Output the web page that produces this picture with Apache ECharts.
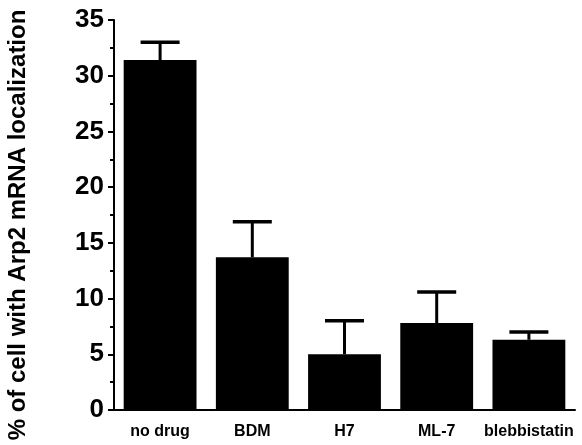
<!DOCTYPE html>
<html><head><meta charset="utf-8">
<script src="https://cdn.jsdelivr.net/npm/echarts@6/dist/echarts.min.js"></script>
<style>html,body{margin:0;padding:0;background:#fff}#c{width:582px;height:445px}</style>
</head><body><div id="c"></div>
<script>
var categories = ['no drug', 'BDM', 'H7', 'ML-7', 'blebbistatin'];
var means = [31.4, 13.7, 5.0, 7.8, 6.3];
var errTops = [33.0, 16.9, 8.0, 10.6, 7.0];
var yTicks = [0, 5, 10, 15, 20, 25, 30, 35];

var chart = echarts.init(document.getElementById('c'));
var errData = categories.map(function (c, i) { return [i, means[i], errTops[i]]; });
chart.setOption({
  animation: false,
  grid: { left: 114, right: 7, top: 20, bottom: 35, containLabel: false, outerBoundsMode: 'none' },
  xAxis: {
    type: 'category', data: categories,
    axisLine: { lineStyle: { color: '#000', width: 2 } },
    axisTick: { show: false },
    axisLabel: { interval: 0, color: '#000', fontFamily: 'Liberation Sans', fontWeight: 'bold', fontSize: 16, margin: 14 }
  },
  yAxis: {
    type: 'value', min: yTicks[0], max: yTicks[yTicks.length - 1], interval: 5,
    name: '% of cell with Arp2 mRNA localization',
    nameLocation: 'middle', nameGap: 84,
    nameTextStyle: { color: '#000', fontFamily: 'Liberation Sans', fontWeight: 'bold', fontSize: 24, padding: [0, 20, 0, 0] },
    axisLine: { show: true, lineStyle: { color: '#000', width: 2 } },
    axisTick: { show: true, length: 6, lineStyle: { color: '#000', width: 2 } },
    minorTick: { show: true, splitNumber: 2, length: 4, lineStyle: { color: '#000', width: 2 } },
    splitLine: { show: false },
    axisLabel: { color: '#000', fontFamily: 'Liberation Sans', fontWeight: 'bold', fontSize: 26, margin: 10 }
  },
  series: [
    {
      type: 'bar', data: means, barWidth: '79%',
      itemStyle: { color: '#000' }, z: 2
    },
    {
      type: 'custom', data: errData, z: 3,
      renderItem: function (params, api) {
        var x = api.value(0);
        var p0 = api.coord([x, api.value(1)]);
        var p1 = api.coord([x, api.value(2)]);
        var hw = 19.5;
        return {
          type: 'group',
          children: [
            { type: 'line', shape: { x1: p0[0], y1: p0[1], x2: p1[0], y2: p1[1] }, style: { stroke: '#000', lineWidth: 3 } },
            { type: 'line', shape: { x1: p1[0] - hw, y1: p1[1], x2: p1[0] + hw, y2: p1[1] }, style: { stroke: '#000', lineWidth: 3.5 } }
          ]
        };
      }
    }
  ]
});
</script></body></html>
